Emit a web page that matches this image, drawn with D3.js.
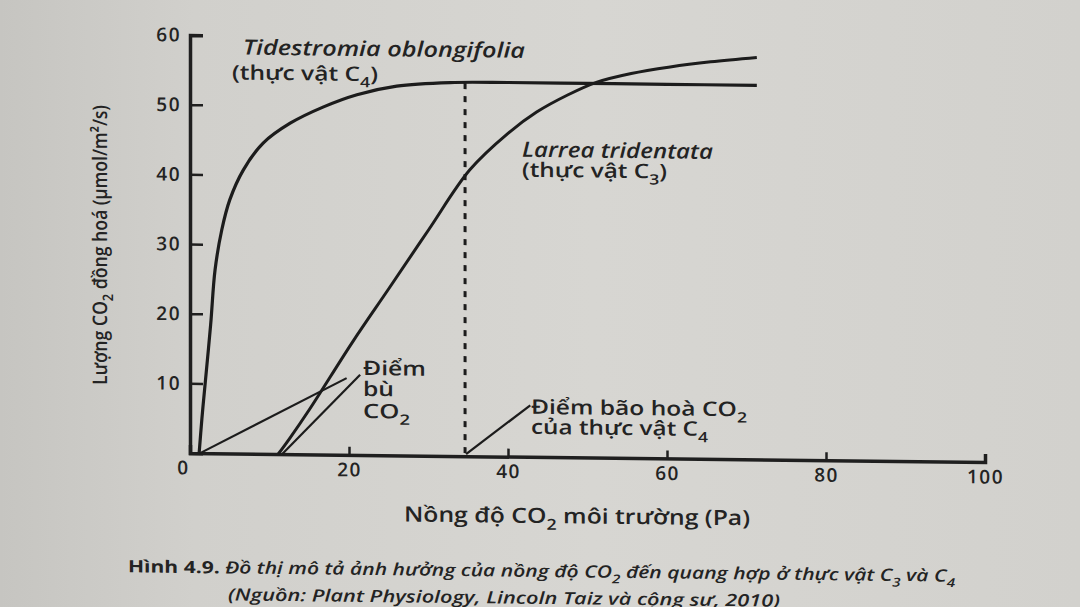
<!DOCTYPE html>
<html>
<head>
<meta charset="utf-8">
<script src="https://cdn.jsdelivr.net/npm/d3@7"></script>
<style>
  html, body { margin: 0; padding: 0; background: #d3d2ce; }
  svg { display: block; }
  text { fill: #232323; font-family: "Open Sans", "Noto Sans", sans-serif; }
</style>
</head>
<body>
<div id="chart"></div>
<script>
// CO2 concentration (Pa) -> CO2 assimilation (umol/m2/s)
var c4X = [1.15, 1.5, 1.9, 2.6, 3.15, 4.0, 5.0, 6.7, 9.2, 12.6, 16.8, 21.0, 26.0, 32.7, 40, 50, 60, 71.3];
var c4Y = [0, 5, 9.9, 18.5, 26.3, 32.1, 36.4, 40.7, 44.6, 47.5, 49.9, 51.7, 53.0, 53.6, 53.7, 53.7, 53.7, 53.7];
var c3X = [11.1, 12.5, 15, 20.5, 25, 30, 35.2, 40, 43.6, 47.5, 51.2, 55.5, 60.4, 65.5, 71.3];
var c3Y = [0, 2.2, 6.4, 16.3, 23.9, 32.4, 41.1, 46.4, 49.5, 52, 53.9, 55.2, 56.2, 57.0, 57.7];
var xTicks = [0, 20, 40, 60, 80, 100];
var yTicks = [10, 20, 30, 40, 50, 60];
var compensation = [1.15, 11.1];      // C4, C3
var saturationC4 = 34.6;
var buLineEnds = [[19.7, 11.0], [21.4, 11.5]];
var baoHoaLineEnd = [42.8, 7.4];

var width = 1080, height = 607;
var skew = 0.65; // the photo is slightly tilted

var x = d3.scaleLinear().domain([0, 100]).range([190, 985]);
var y = d3.scaleLinear().domain([0, 60]).range([453, 35]);

var svg = d3.select("#chart").append("svg")
  .attr("width", width)
  .attr("height", height);

var defs = svg.append("defs");
var grad = defs.append("linearGradient").attr("id", "paper")
  .attr("x1", 0).attr("x2", 1).attr("y1", 0).attr("y2", 0);
[["0%", "#c6c5c1"], ["18%", "#d1d0cc"], ["55%", "#d7d6d2"], ["100%", "#d2d1cd"]].forEach(function(s) {
  grad.append("stop").attr("offset", s[0]).attr("stop-color", s[1]);
});
svg.append("rect").attr("width", width).attr("height", height).attr("fill", "url(#paper)");

var g = svg.append("g")
  .attr("transform", "translate(190,0) skewY(" + skew + ") translate(-190,0)");

// helper for labels with subscripts
function label(parent, px, py, parts, opts) {
  opts = opts || {};
  var size = opts.size || 18;
  var t = parent.append("text")
    .attr("x", px).attr("y", py)
    .style("font-size", size + "px")
    .style("font-style", opts.italic ? "italic" : "normal")
    .style("font-weight", opts.weight || 600)
    .attr("text-anchor", opts.anchor || "start");
  if (opts.length) t.attr("textLength", opts.length).attr("lengthAdjust", "spacingAndGlyphs");
  if (opts.transform) t.attr("transform", opts.transform);
  var shift = 0;
  parts.forEach(function(p) {
    if (typeof p === "string") p = { t: p };
    var ts = t.append("tspan").text(p.t);
    var want = p.sub ? size * 0.32 : 0;
    if (want !== shift) ts.attr("dy", want - shift);
    shift = want;
    if (p.sub) ts.style("font-size", (size * 0.72) + "px");
    if (p.weight) ts.style("font-weight", p.weight);
    if (p.italic !== undefined) ts.style("font-style", p.italic ? "italic" : "normal");
  });
  return t;
}

// axes
var yAxis = d3.axisLeft(y).tickValues(yTicks).tickSizeInner(-13).tickSizeOuter(-13).tickPadding(9);
var xAxis = d3.axisBottom(x).tickValues(xTicks).tickSizeInner(-8).tickSizeOuter(-8).tickPadding(8);

var ya = g.append("g").attr("transform", "translate(" + x(0) + ",0)").call(yAxis);
var xa = g.append("g").attr("transform", "translate(0," + y(0) + ")").call(xAxis);

[ya, xa].forEach(function(a) {
  a.select(".domain").attr("stroke", "#1f1f1f").attr("stroke-width", 3.5).attr("fill", "none")
    .attr("stroke-linejoin", "miter");
  a.selectAll(".tick line").attr("stroke", "#1f1f1f").attr("stroke-width", 2.5);
  a.selectAll(".tick text")
    .attr("fill", "#262626")
    .style("font-size", "19px")
    .style("font-weight", 600)
    .style("letter-spacing", "1.5px")
    .style("font-family", "'Open Sans', sans-serif");
});
xa.selectAll(".tick text").filter(function(d) { return d === 0; }).attr("x", -7);
xa.selectAll(".tick text").attr("dy", "0.71em");

// curves
var line = d3.line().x(function(d) { return x(d[0]); }).y(function(d) { return y(d[1]); })
  .curve(d3.curveCatmullRom.alpha(0.5));

g.append("path").datum(d3.zip(c4X, c4Y)).attr("d", line)
  .attr("fill", "none").attr("stroke", "#1c1c1c").attr("stroke-width", 3.2);
g.append("path").datum(d3.zip(c3X, c3Y)).attr("d", line)
  .attr("fill", "none").attr("stroke", "#1c1c1c").attr("stroke-width", 3);

// saturation point of C4
g.append("line")
  .attr("x1", x(saturationC4)).attr("x2", x(saturationC4))
  .attr("y1", y(0) - 3).attr("y2", y(53.7))
  .attr("stroke", "#1c1c1c").attr("stroke-width", 3).attr("stroke-dasharray", "6,7");

// annotation leader lines
buLineEnds.forEach(function(e, i) {
  g.append("line")
    .attr("x1", x(compensation[i]) + (i ? 4 : 1)).attr("y1", y(0))
    .attr("x2", x(e[0])).attr("y2", y(e[1]))
    .attr("stroke", "#1c1c1c").attr("stroke-width", 2.2);
});
g.append("line")
  .attr("x1", x(saturationC4) + 1).attr("y1", y(0) - 2)
  .attr("x2", x(baoHoaLineEnd[0])).attr("y2", y(baoHoaLineEnd[1]))
  .attr("stroke", "#1c1c1c").attr("stroke-width", 2.2);

// texts
label(g, 243, 54, ["Tidestromia oblongifolia"], { size: 21, italic: true, length: 282 });
label(g, 232, 79, ["(thực vật C", { t: "4", sub: true }, ")"], { size: 20, length: 146 });
label(g, 522, 153, ["Larrea tridentata"], { size: 21, italic: true, length: 191 });
label(g, 522, 173, ["(thực vật C", { t: "3", sub: true }, ")"], { size: 20, length: 145 });

label(g, 363, 373, ["Điểm"], { size: 20, length: 63 });
label(g, 363, 394, ["bù"], { size: 20, length: 31 });
label(g, 363, 416, ["CO", { t: "2", sub: true }], { size: 20, length: 47 });

label(g, 531, 410, ["Điểm bão hoà CO", { t: "2", sub: true }], { size: 20, length: 216 });
label(g, 531, 430, ["của thực vật C", { t: "4", sub: true }], { size: 20, length: 177 });

label(g, 577, 519, ["Nồng độ CO", { t: "2", sub: true }, " môi trường (Pa)"],
  { size: 21, anchor: "middle", length: 346 });

label(g, 0, 0, ["Lượng CO", { t: "2", sub: true }, " đồng hoá (µmol/m²/s)"],
  { size: 20, anchor: "middle", length: 280, transform: "translate(107,246) rotate(-90)" });

label(g, 128, 573, [{ t: "Hình 4.9. ", weight: 700 },
  { t: "Đồ thị mô tả ảnh hưởng của nồng độ CO", italic: true }, { t: "2", sub: true, italic: true },
  { t: " đến quang hợp ở thực vật C", italic: true }, { t: "3", sub: true, italic: true },
  { t: " và C", italic: true }, { t: "4", sub: true, italic: true }],
  { size: 17, weight: 600, length: 827 });
label(g, 228, 600, ["(Nguồn: Plant Physiology, Lincoln Taiz và cộng sự, 2010)"],
  { size: 17, italic: true, weight: 600, length: 552 });
</script>
</body>
</html>
